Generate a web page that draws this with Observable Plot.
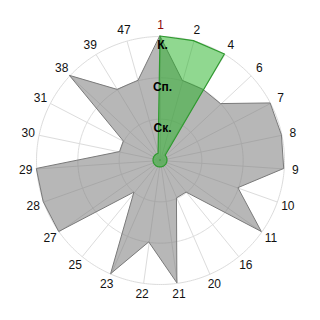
<!DOCTYPE html>
<html>
<head>
<meta charset="utf-8">
<script src="https://cdn.jsdelivr.net/npm/d3@7"></script>
<script src="https://cdn.jsdelivr.net/npm/@observablehq/plot@0.6"></script>
<style>
  body { margin: 0; background: #fff; }
  #chart svg { display: block; }
</style>
</head>
<body>
<div id="chart"></div>
<script>
// Spokes of the radar, clockwise from the top
const categories = ["1", "2", "4", "6", "7", "8", "9", "10", "11", "16", "20", "21", "22", "23", "25", "27", "28", "29", "30", "31", "38", "39", "47"];

// Radial levels (inner to outer) and their numeric positions
const levelLabels = ["Ск.", "Сп.", "К."];
const levelValues = [1, 2, 3];

// Series values, one per spoke
const grayValues = [3, 2, 2, 2, 3, 3, 3, 2, 3, 1, 1, 3, 2, 3, 1, 3, 3, 3, 1, 1, 3, 2, 2];
const greenValues = [3, 3, 3, 0.17, 0.17, 0.17, 0.17, 0.17, 0.17, 0.17, 0.17, 0.17, 0.17, 0.17, 0.17, 0.17, 0.17, 0.17, 0.17, 0.17, 0.17, 0.17, 0.17];

// Angular position of each spoke as a longitude around the pole
const longitude = d3.scalePoint(categories, [180, 180 - 360 * (categories.length - 1) / categories.length]);

const labelRadius = 3.27;
const frameRadius = 3.871;
const highlighted = "1";

const chart = Plot.plot({
  width: 320,
  height: 320,
  margin: 0,
  style: { fontFamily: "'Liberation Sans', Arial, sans-serif", background: "#fff" },
  projection: {
    type: "azimuthal-equidistant",
    rotate: [0, -90],
    domain: d3.geoCircle().center([0, 90]).radius(frameRadius)()
  },
  marks: [
    // concentric rings
    Plot.geo(levelValues, {
      geometry: (r) => d3.geoCircle().center([0, 90]).radius(r).precision(1)(),
      stroke: "#dcdcdc",
      strokeWidth: 1,
      fill: "none"
    }),
    // spokes
    Plot.link(categories, {
      x1: (d) => longitude(d),
      y1: 90 - 3,
      x2: (d) => longitude(d),
      y2: 90,
      stroke: "#dcdcdc",
      strokeWidth: 1
    }),
    // gray series
    Plot.area(categories, {
      x1: (d) => longitude(d),
      y1: (d, i) => 90 - grayValues[i],
      x2: 0,
      y2: 90,
      curve: "linear-closed",
      fill: "#808080",
      fillOpacity: 0.57,
      stroke: "#7a7a7a",
      strokeWidth: 1
    }),
    // green series
    Plot.area(categories, {
      x1: (d) => longitude(d),
      y1: (d, i) => 90 - greenValues[i],
      x2: 0,
      y2: 90,
      curve: "linear-closed",
      fill: "#21b121",
      fillOpacity: 0.5,
      stroke: "#2f9a2f",
      strokeWidth: 1.2
    }),
    // spoke labels
    Plot.text(categories.filter((d) => d !== highlighted), {
      x: (d) => longitude(d),
      y: 90 - labelRadius,
      text: (d) => d,
      fontSize: 12,
      fill: "#111"
    }),
    Plot.text([highlighted], {
      x: (d) => longitude(d),
      y: 90 - labelRadius,
      text: (d) => d,
      fontSize: 12,
      fill: "#8b0a0a"
    }),
    // level labels along the top spoke
    Plot.text(levelValues, {
      x: 180,
      y: (v) => 90 - v,
      text: (v, i) => levelLabels[i],
      dx: 2,
      dy: 9,
      fontSize: 12,
      fontWeight: "bold",
      fill: "#000"
    })
  ]
});

document.getElementById("chart").append(chart);
</script>
</body>
</html>
